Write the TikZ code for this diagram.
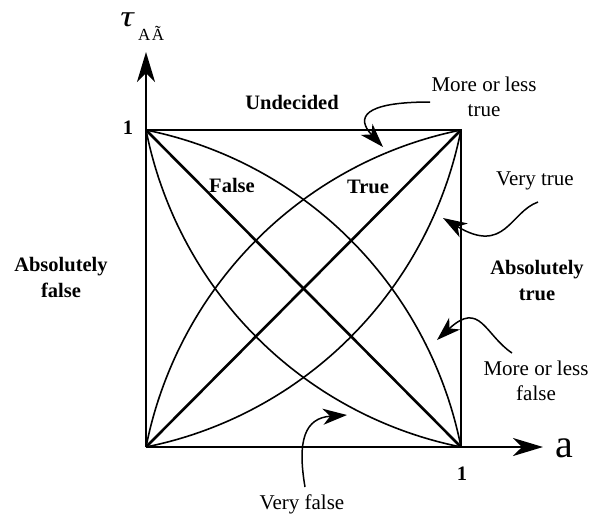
\documentclass[tikz,border=0pt]{standalone}
\usepackage{fontspec}
\setmainfont{Liberation Serif}
\usetikzlibrary{arrows.meta}
\begin{document}
\begin{tikzpicture}[x=1pt,y=-1pt,
  lbl/.style={font=\fontsize{21}{25}\selectfont, align=center, inner sep=0pt},
  blbl/.style={font=\fontsize{20.5}{26}\selectfont\bfseries, align=center, inner sep=0pt},
  ptr/.style={line width=1.5pt, -{Stealth[length=24pt,width=16pt,inset=7pt]}},
  axis/.style={line width=2.2pt, -{Stealth[length=30pt,width=18pt,inset=9pt]}},
  curve/.style={line width=1.6pt},
  diag/.style={line width=2.6pt},
  frame/.style={line width=2.8pt}]
\useasboundingbox (0,0) rectangle (593,515);
% corners
\coordinate (O) at (146,447);
\coordinate (TL) at (146,130);
\coordinate (TR) at (461,130);
\coordinate (BR) at (461,447);
\coordinate (ytip) at (146,52);
\coordinate (xtip) at (543,447);
% axes
\draw[axis] (O) -- (ytip);
\draw[axis] (O) -- (xtip);
% square
\draw[frame] (O) -- (TL) -- (TR) -- (BR);
% diagonals
\draw[diag] (O) -- (TR);
\draw[diag] (TL) -- (BR);
% curves (circular arcs through opposite corners, radius 1.27475 of the unit square)
\draw[curve] plot[domain=-78.69:-11.31,samples=60,smooth] ({146+315*(-0.25+1.27475*cos(\x))},{447-317*(1.25+1.27475*sin(\x))});
\draw[curve] plot[domain=168.69:101.31,samples=60,smooth] ({146+315*(1.25+1.27475*cos(\x))},{447-317*(-0.25+1.27475*sin(\x))});
\draw[curve] plot[domain=191.31:258.69,samples=60,smooth] ({146+315*(1.25+1.27475*cos(\x))},{447-317*(1.25+1.27475*sin(\x))});
\draw[curve] plot[domain=78.69:11.31,samples=60,smooth] ({146+315*(-0.25+1.27475*cos(\x))},{447-317*(-0.25+1.27475*sin(\x))});
% axis labels
\node[anchor=base west, inner sep=0pt, xscale=1.25, transform shape, font=\fontsize{30}{30}\selectfont\itshape] (tau) at (120,26) {τ};
\node[anchor=base west, inner sep=0pt, font=\fontsize{17}{17}\selectfont] (sub) at (138,40) {A\hspace{1.5pt}Ã};
\node[anchor=base west, inner sep=0pt, font=\fontsize{40}{40}\selectfont] (a) at (555,457) {a};
\node[blbl] (one1) at (128,128) {1};
\node[blbl] (one2) at (462,474) {1};
% region labels
\node[blbl] (und) at (292,102) {Undecided};
\node[blbl] (fal) at (232,185) {False};
\node[blbl] (tru) at (368,187) {True};
\node[blbl] (absf) at (61,277) {Absolutely\\false};
\node[blbl] (abst) at (537,281) {Absolutely\\true};
% curve labels
\node[lbl] (mlt) at (484,97) {More or less\\true};
\node[lbl] (vt) at (535,181) {Very true};
\node[lbl] (mlf) at (536,381) {More or less\\false};
\node[lbl] (vf) at (302,504) {Very false};
% pointers
\coordinate (s1) at (430,102);
\coordinate (t1) at (383,147);
\coordinate (s2) at (538,202);
\coordinate (t2) at (443,218);
\coordinate (s3) at (512,353);
\coordinate (t3) at (437,340);
\coordinate (s4) at (305,487);
\coordinate (t4) at (347,415);
\draw[ptr] (s1) .. controls (362,102) and (356,118) .. (t1);
\draw[ptr] (s2) .. controls (510,212) and (505,255) .. (t2);
\draw[ptr] (s3) .. controls (485,335) and (480,300) .. (t3);
\draw[ptr] (s4) .. controls (297,440) and (305,418) .. (t4);
\end{tikzpicture}
\end{document}
